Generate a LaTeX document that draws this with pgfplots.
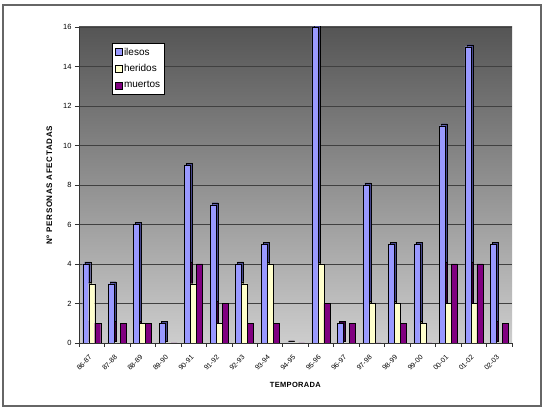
\documentclass[border=0pt]{standalone}
\usepackage{pgfplots}
\pgfplotsset{compat=1.18}
\usepackage{fontspec}
\setmainfont{Liberation Sans}
\definecolor{ile}{RGB}{153,153,255}
\definecolor{her}{RGB}{255,255,204}
\definecolor{mue}{RGB}{128,0,128}
\definecolor{ileD}{RGB}{70,70,140}
\definecolor{herD}{RGB}{130,130,95}
\definecolor{mueD}{RGB}{60,0,60}
\pgfplotstableread{
x ile her mue
0 4 3 1
1 3 0 1
2 6 1 1
3 1 0 0
4 9 3 4
5 7 1 2
6 4 3 1
7 5 4 1
8 0 0 0
9 16 4 2
10 1 0 1
11 8 2 0
12 5 2 1
13 5 1 0
14 11 2 4
15 15 2 4
16 5 0 1
}\datatab
\begin{document}
\begin{tikzpicture}
\useasboundingbox (0pt,0pt) rectangle (550pt,412pt);
\fill[white] (0pt,0pt) rectangle (550pt,412pt);
\draw[gray!80!black, line width=1.2pt] (3pt,6pt) rectangle (541pt,407pt);
\begin{axis}[
  at={(79pt,69pt)}, anchor=south west,
  width=433pt, height=316pt, scale only axis,
  xmin=-0.5, xmax=16.5, ymin=0, ymax=16,
  ybar=0pt, bar width=6pt,
  axis x line*=bottom, axis y line*=left,
  axis line style={-, black!80, line width=0.8pt},
  axis background/.style={top color={rgb,255:red,85;green,85;blue,85}, bottom color={rgb,255:red,205;green,205;blue,205}},
  ytick={0,2,...,16},
  ymajorgrids, grid style={black!75, line width=0.6pt},
  xtick={0,...,16},
  xticklabels={86-87,87-88,88-89,89-90,90-91,91-92,92-93,93-94,94-95,95-96,96-97,97-98,98-99,99-00,00-01,01-02,02-03},
  minor xtick={-0.5,0.5,...,16.5},
  tick align=outside,
  x tick style={draw=none},
  minor x tick style={draw=black!80, line width=0.6pt},
  minor tick length=4pt,
  y tick style={black!80, line width=0.6pt},
  major tick length=4pt,
  x tick label style={xshift=-3pt, yshift=-6pt, rotate=45, anchor=north east, font=\fontsize{7}{8}\selectfont, inner sep=1pt},
  y tick label style={font=\fontsize{7.5}{9}\selectfont},
  /pgf/number format/assume math mode=true,
  xlabel={\textbf{TEMPORADA}},
  xlabel style={font=\fontsize{7.5}{9}\selectfont\addfontfeature{LetterSpace=4}, yshift=-6pt},
  ylabel={\textbf{Nº PERSONAS AFECTADAS}},
  ylabel style={font=\fontsize{8}{9}\selectfont\addfontfeature{LetterSpace=8}, yshift=4pt},
  legend style={at={(0.076,0.949)}, anchor=north west, draw=black, fill=white,
    font=\fontsize{10}{12}\selectfont, row sep=4pt, inner sep=2.5pt, cells={anchor=west}},
  legend image code/.code={\draw[#1] (0pt,-3.5pt) rectangle (7pt,3.5pt);},
]
\addplot[fill=ileD, draw=black, line width=0.4pt, xshift=2pt, yshift=2pt, forget plot] table[x=x,y=ile]{\datatab};
\addplot[fill=herD, draw=black, line width=0.4pt, xshift=2pt, yshift=2pt, forget plot] table[x=x,y=her]{\datatab};
\addplot[fill=mueD, draw=black, line width=0.4pt, xshift=2pt, yshift=2pt, forget plot] table[x=x,y=mue]{\datatab};
\addplot[fill=ile, draw=black, line width=0.4pt] table[x=x,y=ile]{\datatab};
\addplot[fill=her, draw=black, line width=0.4pt] table[x=x,y=her]{\datatab};
\addplot[fill=mue, draw=black, line width=0.4pt] table[x=x,y=mue]{\datatab};
\legend{ilesos,heridos,muertos}
\end{axis}
\end{tikzpicture}
\end{document}
